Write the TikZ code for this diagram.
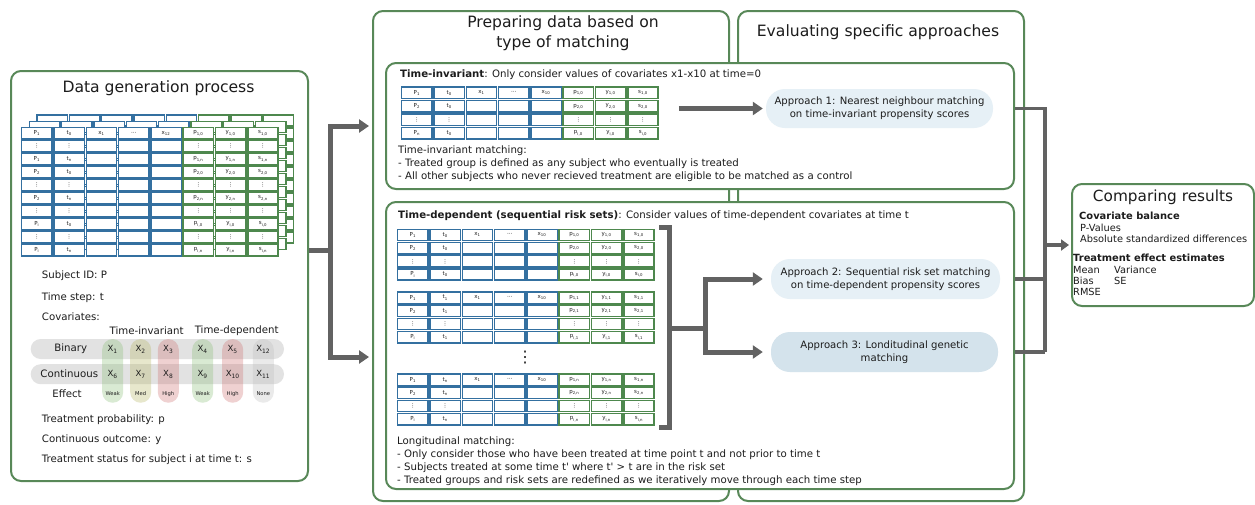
\documentclass[tikz,border=0pt]{standalone}
\usepackage{fontspec}
\setmainfont{DejaVu Sans}
\usetikzlibrary{arrows.meta,calc}
\definecolor{pgreen}{RGB}{88,136,88}
\definecolor{tblue}{RGB}{52,112,160}
\definecolor{tgreen}{RGB}{78,136,78}
\definecolor{agray}{RGB}{98,98,98}
\definecolor{apfill}{RGB}{230,240,246}
\definecolor{apfillb}{RGB}{212,227,236}
\definecolor{txt}{RGB}{28,28,28}
\definecolor{rowgray}{RGB}{226,226,226}
\definecolor{cgreen}{RGB}{131,188,112}
\definecolor{cyellow}{RGB}{178,178,88}
\definecolor{cred}{RGB}{205,105,105}
\definecolor{cgray}{RGB}{188,188,188}
\newcommand{\fsz}[2]{\fontsize{#1}{#2}\selectfont}
\newcommand{\sbs}[2]{#1\textsubscript{#2}}
\newcommand{\trow}[5]{%
  \foreach \c [count=\i] in {#5}{%
    \pgfmathsetmacro{\cx}{#2+(\i-0.5)*32.3}%
    \pgfmathsetmacro{\cy}{#3+0.5*#4}%
    \ifnum\i<6\def\cc{tblue}\else\def\cc{tgreen}\fi
    \node[cell,draw=\cc,minimum height=#4-1.9] (#1-\i) at (\cx,\cy) {\c};
  }}
\newcommand{\drow}[4]{\trow{#1}{#2}{#3}{#4}{{⋮},{⋮},{},{},{},{⋮},{⋮},{⋮}}}
\newcommand{\erow}[4]{\trow{#1}{#2}{#3}{#4}{{},{},{},{},{},{},{},{}}}
\begin{document}
\begin{tikzpicture}[x=1pt,y=-1pt,
  every node/.style={text=txt, inner sep=0pt},
  panel/.style={draw=pgreen, line width=2pt, rounded corners=10pt, fill=white, anchor=north west},
  cell/.style={draw, line width=1.5pt, fill=white, minimum width=30.4pt, inner sep=0pt, font=\fsz{5.5}{6}},
  garrow/.style={draw=agray, line width=5pt, line join=miter, -{Triangle[length=10pt,width=13pt]}},
  gline/.style={draw=agray, line width=5pt, line join=miter},
  gthin/.style={draw=agray, line width=3.5pt, line join=miter},
  appr/.style={fill=apfill, rounded corners=19pt, align=center, font=\fsz{10.1}{12.8}},
  body/.style={font=\fsz{10.2}{13}, align=left, anchor=west},
  cbody/.style={align=left, anchor=west},
  bodyb/.style={font=\bfseries\fsz{9.9}{12}, anchor=west},
  title/.style={font=\fsz{15.6}{20}, align=center},
  lgrow/.style={fill=rowgray, rounded corners=10pt, minimum width=253.3pt, minimum height=20pt},
  lgcol/.style={fill opacity=0.3, rounded corners=10.5pt, minimum width=21pt, minimum height=63.7pt},
  lab/.style={font=\fsz{10.2}{12}},
  xl/.style={font=\fsz{8.5}{9}},
  ef/.style={font=\fsz{5.2}{6}}]
\useasboundingbox (0,0) rectangle (1255,504);

% panels
\node[panel, minimum width=297pt, minimum height=410pt] (dgp) at (10,70) {};
\node[panel, minimum width=356pt, minimum height=490pt] (prep) at (372,10) {};
\node[panel, minimum width=286pt, minimum height=490pt] (eval) at (737,10) {};
\node[panel, minimum width=628pt, minimum height=126pt] (tib) at (385,62) {};
\node[panel, minimum width=628pt, minimum height=287pt] (tdb) at (385,201) {};
\node[panel, minimum width=182pt, minimum height=122pt] (cmp) at (1071,183) {};

% titles
\node[title] (tdgp) at (158.5,88) {Data generation process};
\node[title] (tprep) at (563,33) {Preparing data based on\\type of matching};
\node[title] (teval) at (878,32) {Evaluating specific approaches};
\node[title, font=\fsz{15.3}{20}] (tcmp) at (1163,197) {Comparing results};

% left stacked tables
\foreach \r in {1,...,10}{
  \pgfmathsetmacro{\yy}{114.1+(\r-1)*13}
  \erow{B3-\r}{36.1}{\yy}{13}
}
\foreach \r in {1,...,10}{
  \pgfmathsetmacro{\yy}{120.4+(\r-1)*13}
  \erow{B2-\r}{28.4}{\yy}{13}
}
\trow{L1}{20.7}{126.7}{13}{{\sbs{P}{1}},{\sbs{t}{0}},{\sbs{x}{1}},{⋯},{\sbs{x}{12}},{\sbs{p}{1,0}},{\sbs{y}{1,0}},{\sbs{s}{1,0}}}
\drow{L2}{20.7}{139.7}{13}
\trow{L3}{20.7}{152.7}{13}{{\sbs{P}{1}},{\sbs{t}{n}},{},{},{},{\sbs{p}{1,n}},{\sbs{y}{1,n}},{\sbs{s}{1,n}}}
\trow{L4}{20.7}{165.7}{13}{{\sbs{P}{2}},{\sbs{t}{0}},{},{},{},{\sbs{p}{2,0}},{\sbs{y}{2,0}},{\sbs{s}{2,0}}}
\drow{L5}{20.7}{178.7}{13}
\trow{L6}{20.7}{191.7}{13}{{\sbs{P}{2}},{\sbs{t}{n}},{},{},{},{\sbs{p}{2,n}},{\sbs{y}{2,n}},{\sbs{s}{2,n}}}
\drow{L7}{20.7}{204.7}{13}
\trow{L8}{20.7}{217.7}{13}{{\sbs{P}{i}},{\sbs{t}{0}},{},{},{},{\sbs{p}{i,0}},{\sbs{y}{i,0}},{\sbs{s}{i,0}}}
\drow{L9}{20.7}{230.7}{13}
\trow{L10}{20.7}{243.7}{13}{{\sbs{P}{i}},{\sbs{t}{n}},{},{},{},{\sbs{p}{i,n}},{\sbs{y}{i,n}},{\sbs{s}{i,n}}}

% legend
\node[body] (sid) at (41.7,275.7) {Subject ID: P};
\node[body] (tst) at (41.7,297.7) {Time step: t};
\node[body] (cov) at (41.7,316.7) {Covariates:};
\node[lab] (hti) at (146.7,331) {Time-invariant};
\node[lab] (htd) at (236.7,331) {Time-dependent};
\node[lgrow] (rbin) at (157.35,349) {};
\node[lgrow] (rcon) at (157.35,374.2) {};
\node[lgcol, fill=cgreen] (c1) at (112.7,370.9) {};
\node[lgcol, fill=cyellow] (c2) at (140.7,370.9) {};
\node[lgcol, fill=cred] (c3) at (168.3,370.9) {};
\node[lgcol, fill=cgreen] (c4) at (202.7,370.9) {};
\node[lgcol, fill=cred] (c5) at (232.7,370.9) {};
\node[lgcol, fill=cgray] (c6) at (263.3,370.9) {};
\node[lab] (lbin) at (70.7,349) {Binary};
\node[lab] (lcon) at (69.3,374) {Continuous};
\node[lab] (leff) at (67,393.3) {Effect};
\foreach \n/\a/\b/\e [count=\k] in {112.7/1/6/Weak,140.7/2/7/Med,168.3/3/8/High,202.7/4/9/Weak,232.7/5/10/High,263.3/12/11/None}{
  \node[xl] (xa\k) at (\n,349.5) {\sbs{X}{\a}};
  \node[xl] (xb\k) at (\n,374.5) {\sbs{X}{\b}};
  \node[ef] (ef\k) at (\n,393.8) {\e};
}
\node[body] (tpr) at (41.7,419.3) {Treatment probability: p};
\node[body] (cou) at (41.7,440) {Continuous outcome: y};
\node[body] (tss) at (41.7,460) {Treatment status for subject i at time t: s};

% top inner box
\node[body] (h1) at (400,75) {\textbf{Time-invariant}: Only consider values of covariates x1-x10 at time=0};
\trow{T1}{400.7}{86}{13.5}{{\sbs{P}{1}},{\sbs{t}{0}},{\sbs{x}{1}},{⋯},{\sbs{x}{10}},{\sbs{p}{1,0}},{\sbs{y}{1,0}},{\sbs{s}{1,0}}}
\trow{T2}{400.7}{99.5}{13.5}{{\sbs{P}{2}},{\sbs{t}{0}},{},{},{},{\sbs{p}{2,0}},{\sbs{y}{2,0}},{\sbs{s}{2,0}}}
\drow{T3}{400.7}{113}{13.5}
\trow{T4}{400.7}{126.5}{13.5}{{\sbs{P}{n}},{\sbs{t}{0}},{},{},{},{\sbs{p}{i,0}},{\sbs{y}{i,0}},{\sbs{s}{i,0}}}
\node[body] (m1) at (398,164) {Time-invariant matching:\\- Treated group is defined as any subject who eventually is treated\\- All other subjects who never recieved treatment are eligible to be matched as a control};

% bottom inner box
\node[body] (h2) at (398,216) {\textbf{Time-dependent (sequential risk sets)}: Consider values of time-dependent covariates at time t};
\trow{A1}{396.7}{228.3}{13.2}{{\sbs{P}{1}},{\sbs{t}{0}},{\sbs{x}{1}},{⋯},{\sbs{x}{10}},{\sbs{p}{1,0}},{\sbs{y}{1,0}},{\sbs{s}{1,0}}}
\trow{A2}{396.7}{241.5}{13.2}{{\sbs{P}{2}},{\sbs{t}{0}},{},{},{},{\sbs{p}{2,0}},{\sbs{y}{2,0}},{\sbs{s}{2,0}}}
\drow{A3}{396.7}{254.7}{13.2}
\trow{A4}{396.7}{267.9}{13.2}{{\sbs{P}{i}},{\sbs{t}{0}},{},{},{},{\sbs{p}{i,0}},{\sbs{y}{i,0}},{\sbs{s}{i,0}}}
\trow{B1}{396.7}{291}{13.2}{{\sbs{P}{1}},{\sbs{t}{1}},{\sbs{x}{1}},{⋯},{\sbs{x}{10}},{\sbs{p}{1,1}},{\sbs{y}{1,1}},{\sbs{s}{1,1}}}
\trow{B2}{396.7}{304.2}{13.2}{{\sbs{P}{2}},{\sbs{t}{1}},{},{},{},{\sbs{p}{2,1}},{\sbs{y}{2,1}},{\sbs{s}{2,1}}}
\drow{B3}{396.7}{317.4}{13.2}
\trow{B4}{396.7}{330.6}{13.2}{{\sbs{P}{i}},{\sbs{t}{1}},{},{},{},{\sbs{p}{i,1}},{\sbs{y}{i,1}},{\sbs{s}{i,1}}}
\node[font=\fsz{16}{16}] (vd) at (525,358) {⋮};
\trow{C1}{396.7}{373}{13.2}{{\sbs{P}{1}},{\sbs{t}{n}},{\sbs{x}{1}},{⋯},{\sbs{x}{10}},{\sbs{p}{1,n}},{\sbs{y}{1,n}},{\sbs{s}{1,n}}}
\trow{C2}{396.7}{386.2}{13.2}{{\sbs{P}{2}},{\sbs{t}{n}},{},{},{},{\sbs{p}{2,n}},{\sbs{y}{2,n}},{\sbs{s}{2,n}}}
\drow{C3}{396.7}{399.4}{13.2}
\trow{C4}{396.7}{412.6}{13.2}{{\sbs{P}{i}},{\sbs{t}{n}},{},{},{},{\sbs{p}{i,n}},{\sbs{y}{i,n}},{\sbs{s}{i,n}}}
\node[body, font=\fsz{10.2}{12.8}] (m2) at (397,461) {Longitudinal matching:\\- Only consider those who have been treated at time point t and not prior to time t\\- Subjects treated at some time t\textquotesingle{} where t\textquotesingle{} > t are in the risk set\\- Treated groups and risk sets are redefined as we iteratively move through each time step};

% approaches
\node[appr, minimum width=227pt, minimum height=39pt] (ap1) at (879.5,108.5) {Approach 1: Nearest neighbour matching\\on time-invariant propensity scores};
\node[appr, minimum width=229pt, minimum height=40pt] (ap2) at (885.5,279) {Approach 2: Sequential risk set matching\\on time-dependent propensity scores};
\node[appr, fill=apfillb, minimum width=227pt, minimum height=40pt] (ap3) at (884.5,352) {Approach 3: Londitudinal genetic\\matching};

% comparing results content
\node[bodyb] (cb) at (1079,216) {Covariate balance};
\node[cbody, font=\fsz{9.8}{11.5}] (cb1) at (1080,233.5) {P-Values\\Absolute standardized differences};
\node[bodyb] (te) at (1073,258.3) {Treatment effect estimates};
\node[cbody, font=\fsz{9.8}{11}] (te1) at (1073,281) {Mean\\Bias\\RMSE};
\node[cbody, font=\fsz{9.8}{11}] (te2) at (1114,275.5) {Variance\\SE};

% connectors: left panel to middle
\coordinate (lj) at (330,250);
\coordinate (lb) at (330,357);
\draw[gline] (dgp.east |- lj) -- (lj);
\draw[garrow, shorten >=3pt] (lj) |- (prep.west |- tib.west);
\draw[garrow, shorten >=3pt] (lj) |- (prep.west |- lb);

% top arrow
\draw[garrow, shorten <=20pt, shorten >=3pt] (T2-8.east |- ap1.west) -- (ap1.west);

% bracket
\coordinate (b1) at (659,227.5);
\coordinate (b2) at (669,227.5);
\coordinate (b3) at (669,427);
\coordinate (b4) at (659,427);
\coordinate (bm) at (669,328);
\coordinate (bj) at (705,328);
\draw[gline] (b1) -- (b2) -- (b3) -- (b4);
\draw[gline] (bm) -- (bj);
\draw[garrow, shorten >=8pt] (bj) |- (ap2.west);
\draw[garrow, shorten >=8pt] (bj) |- (ap3.west);

% right side
\coordinate (rj) at (1045,244);
\draw[gthin] (tib.east |- ap1) -| (rj |- ap3);
\draw[gthin] (tdb.east |- ap2) -- (rj |- ap2);
\draw[gthin] (tdb.east |- ap3) -- (rj |- ap3);
\draw[draw=agray, line width=4pt, -{Triangle[length=8pt,width=11pt]}, shorten >=2pt] (rj |- cmp.west) -- (cmp.west);
\end{tikzpicture}
\end{document}
